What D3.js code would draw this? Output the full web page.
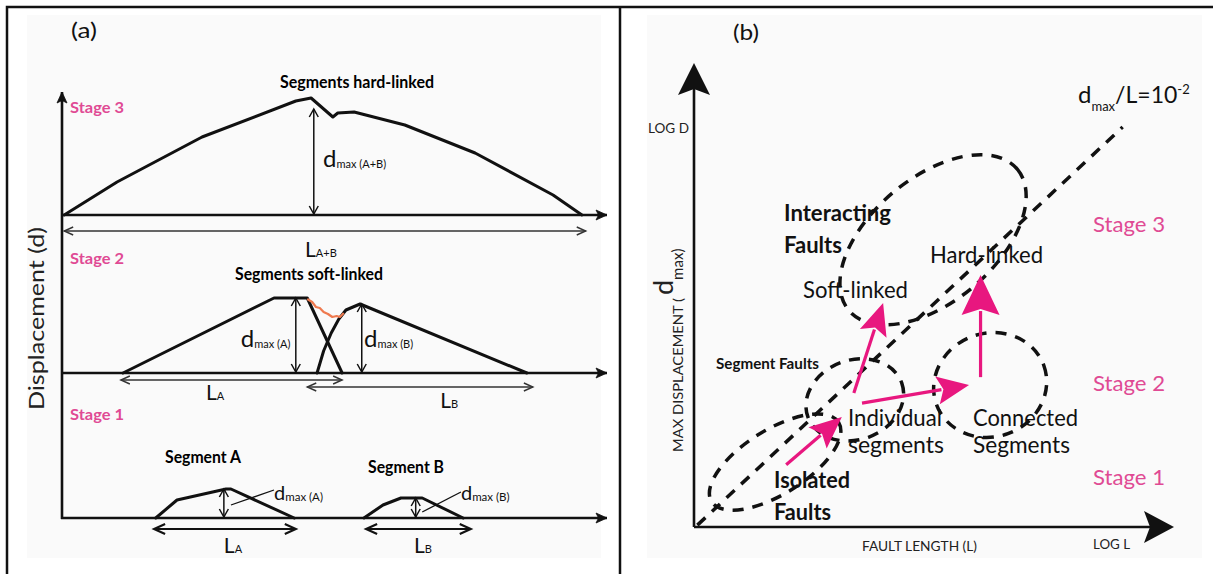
<!DOCTYPE html>
<meta charset="utf-8">
<style>
  body { margin: 0; background: #fff; }
  svg { display: block; font-family: Lato, "Open Sans", sans-serif; }
</style>
<body>
<svg width="1213" height="574"></svg>
<script src="https://cdn.jsdelivr.net/npm/d3@7/dist/d3.min.js"></script>
<script>
// ---------- panel (a): displacement profiles, x = distance along fault (0-100), d = displacement (0-12)
var stageNames = ["Stage 3", "Stage 2", "Stage 1"];
var stageTitles = ["Segments hard-linked", "Segments soft-linked"];
var segmentNames = ["Segment A", "Segment B"];

var stage3Profile = [[0.4,0],[10.1,3.3],[25.7,7.8],[42.9,11.4],[45.7,11.7],[49.7,9.8],[50.6,10.2],[53.6,10.3],[62.9,9.0],[75.8,6.2],[90.1,2.0],[95.4,0]];
var stage2ProfileA = [[11.2,0],[38.9,7.5],[45.0,7.5],[51.4,0]];
var stage2ProfileB = [[46.8,0],[48.0,2.2],[49.4,4.0],[50.8,5.4],[52.1,6.3],[54.7,6.9],[85.3,0]];
var relayRamp = [[45.0,7.4],[45.9,7.1],[46.6,6.6],[47.3,6.5],[48.0,6.1],[48.8,5.9],[49.6,5.6],[50.4,5.7],[51.0,5.6],[51.7,6.0]];
var stage1ProfileA = [[17.2,0],[21.1,1.8],[30.1,2.9],[31.0,2.9],[42.6,0]];
var stage1ProfileB = [[55.4,0],[58.9,1.3],[62.2,2.0],[66.1,2.0],[73.6,0]];

// maximum displacement markers (stage index, position, displacement)
var dmaxArrows = [
  {stage: 0, x: 46.2, top: 10.6, sub: "max (A+B)"},
  {stage: 1, x: 42.9, top: 7.5, sub: "max (A)"},
  {stage: 1, x: 55.0, top: 6.9, sub: "max (B)"},
  {stage: 2, x: 29.7, top: 2.9, sub: "max (A)"},
  {stage: 2, x: 64.9, top: 2.0, sub: "max (B)"}
];
// fault lengths (stage index, start, end)
var lengthArrows = [
  {stage: 0, from: 0.4, to: 96.1, sub: "A+B"},
  {stage: 1, from: 10.8, to: 51.4, sub: "A"},
  {stage: 1, from: 45.0, to: 86.4, sub: "B"},
  {stage: 2, from: 16.9, to: 42.9, sub: "A"},
  {stage: 2, from: 55.8, to: 75.0, sub: "B"}
];

// ---------- panel (b): log L vs log D (0-10 arbitrary log units)
var ratioLine = [[0.07, 0.04], [8.93, 8.62]];
var zones = [
  {name: "isolated",    cx: 1.69, cy: 1.40, rx: 1.56, ry: 0.67, rot: -32},
  {name: "segment",     cx: 3.35, cy: 2.74, rx: 1.04, ry: 0.83, rot: -20},
  {name: "connected",   cx: 6.17, cy: 3.06, rx: 1.19, ry: 1.08, rot: -20},
  {name: "interacting", cx: 4.98, cy: 6.19, rx: 2.29, ry: 1.29, rot: -40}
];
var growthArrows = [
  {from: [1.92, 1.34], to: [3.08, 2.37], big: false},
  {from: [3.50, 2.67], to: [5.73, 3.06], big: false},
  {from: [3.33, 2.89], to: [3.94, 4.83], big: false},
  {from: [5.97, 3.23], to: [5.97, 5.43], big: true}
];

var pink = "#e8177f", stagePink = "#e04a94";
var svg = d3.select("svg");

// frame + faint image backgrounds
svg.append("rect").attr("x", 27).attr("y", 15).attr("width", 574).attr("height", 543).attr("fill", "#fafafa");
svg.append("rect").attr("x", 647).attr("y", 15).attr("width", 555).attr("height", 543).attr("fill", "#fafafa");
svg.append("path").attr("d", "M7,574V7H1213M620,7V574").attr("fill", "none").attr("stroke", "#111").attr("stroke-width", 2.5);

var defs = svg.append("defs");
function addMarker(id, d, len, half, fill, stroke, sw) {
  defs.append("marker").attr("id", id)
      .attr("markerUnits", "userSpaceOnUse")
      .attr("viewBox", [-4, -half - 4, len + 8, 2 * half + 8].join(" "))
      .attr("markerWidth", len + 8).attr("markerHeight", 2 * half + 8)
      .attr("refX", len).attr("refY", 0)
      .attr("orient", "auto-start-reverse")
      .style("overflow", "visible")
    .append("path").attr("d", d)
      .attr("fill", fill).attr("stroke", stroke).attr("stroke-width", sw);
}
addMarker("axisHead", "M0,-5L11,0L0,5L2.5,0Z", 11, 5, "#111", "#111", 0.8);
addMarker("dmaxHead", "M0,-4.5L8,0L0,4.5", 8, 4.5, "none", "#111", 1.5);
addMarker("lenHead", "M0,-4L9,0L0,4", 9, 4, "none", "#333", 1.4);
addMarker("lenHead1", "M0,-5L11,0L0,5", 11, 5, "none", "#111", 2.2);

function txt(g, x, y, s, size, o) {
  o = o || {};
  var t = g.append("text").attr("x", x).attr("y", y).attr("font-size", size).text(s);
  if (o.bold) t.attr("font-weight", "bold");
  if (o.fill) t.attr("fill", o.fill);
  if (o.width) t.attr("textLength", o.width).attr("lengthAdjust", "spacingAndGlyphs");
  return t;
}
function subTxt(g, x, y, main, sub, size, subSize, dy) {
  var t = g.append("text").attr("x", x).attr("y", y).attr("fill", "#111");
  t.append("tspan").attr("font-size", size).text(main);
  t.append("tspan").attr("font-size", subSize).attr("dy", dy || 0).text(sub);
  return t;
}

// ================= panel (a)
var ga = svg.append("g");
var xa = d3.scaleLinear().domain([0, 100]).range([62, 607]);
var stageBase = [215, 373, 518];
var ya = stageBase.map(function(b) { return d3.scaleLinear().domain([0, 12]).range([b, b - 120]); });

txt(ga, 71, 38, "(a)", 22, {width: 26, fill: "#111"});

// axes
ga.append("line").attr("x1", 62).attr("y1", 519).attr("x2", 62).attr("y2", 92)
  .attr("stroke", "#111").attr("stroke-width", 2.6).attr("marker-end", "url(#axisHead)");
stageBase.forEach(function(b) {
  ga.append("line").attr("x1", 61).attr("y1", b).attr("x2", xa(100)).attr("y2", b)
    .attr("stroke", "#111").attr("stroke-width", 2.6).attr("marker-end", "url(#axisHead)");
});

// profiles
function profileLine(i) {
  return d3.line().x(function(p) { return xa(p[0]); }).y(function(p) { return ya[i](p[1]); });
}
[[0, stage3Profile], [1, stage2ProfileA], [1, stage2ProfileB], [2, stage1ProfileA], [2, stage1ProfileB]]
  .forEach(function(p) {
    ga.append("path").attr("d", profileLine(p[0])(p[1]))
      .attr("fill", "none").attr("stroke", "#111").attr("stroke-width", 3)
      .attr("stroke-linejoin", "round").attr("stroke-linecap", "round");
  });
ga.append("path").attr("d", profileLine(1)(relayRamp))
  .attr("fill", "none").attr("stroke", "#ef7a4f").attr("stroke-width", 2.2).attr("stroke-linejoin", "round");

// d max arrows
var dmaxLabelAt = [[47.9, 4.8], [32.8, 2.6], [55.4, 2.6], [38.9, 1.8], [73.2, 1.8]];
dmaxArrows.forEach(function(a, i) {
  var y = ya[a.stage];
  ga.append("line").attr("x1", xa(a.x)).attr("x2", xa(a.x))
    .attr("y1", y(0) - 1).attr("y2", y(a.top))
    .attr("stroke", "#111").attr("stroke-width", 1.5)
    .attr("marker-start", "url(#dmaxHead)").attr("marker-end", "url(#dmaxHead)");
  var big = a.stage < 2;
  subTxt(ga, xa(dmaxLabelAt[i][0]), y(dmaxLabelAt[i][1]), "d", a.sub, big ? 24 : 20, big ? 11 : 11.5, 1);
});
// leader lines in stage 1
[[[31.0, 1.3], [38.9, 2.8]], [[66.1, 0.6], [73.2, 2.6]]].forEach(function(l) {
  ga.append("line").attr("x1", xa(l[0][0])).attr("y1", ya[2](l[0][1]))
    .attr("x2", xa(l[1][0])).attr("y2", ya[2](l[1][1]))
    .attr("stroke", "#111").attr("stroke-width", 1.3);
});

// length arrows
var lenOffset = [-1.6, -0.7, -1.4, -1.1, -1.1];
var lenLabelAt = [[44.6, -4.2], [26.4, -2.7], [69.4, -3.5], [29.7, -3.5], [64.6, -3.5]];
lengthArrows.forEach(function(a, i) {
  var y = ya[a.stage](lenOffset[i]);
  var s1 = a.stage === 2;
  ga.append("line").attr("x1", xa(a.from)).attr("x2", xa(a.to)).attr("y1", y).attr("y2", y)
    .attr("stroke", s1 ? "#111" : "#333").attr("stroke-width", s1 ? 2.2 : 1.4)
    .attr("marker-start", s1 ? "url(#lenHead1)" : "url(#lenHead)")
    .attr("marker-end", s1 ? "url(#lenHead1)" : "url(#lenHead)");
  subTxt(ga, xa(lenLabelAt[i][0]), ya[a.stage](lenLabelAt[i][1]), "L", a.sub, 21, 11, 0);
});

// stage + title text
[113, 264, 420].forEach(function(y, i) {
  txt(ga, 70, y, stageNames[i], 15, {bold: true, fill: stagePink, width: 54});
});
txt(ga, 280, 88, stageTitles[0], 16.5, {bold: true, width: 154});
txt(ga, 235, 280, stageTitles[1], 16.5, {bold: true, width: 148});
txt(ga, 165, 463, segmentNames[0], 16.5, {bold: true, width: 76});
txt(ga, 368, 473, segmentNames[1], 16.5, {bold: true, width: 76});

ga.append("text").attr("transform", "translate(44,410) rotate(-90)")
  .attr("font-size", 22).attr("textLength", 183).attr("lengthAdjust", "spacingAndGlyphs")
  .attr("fill", "#222").text("Displacement (d)");

// ================= panel (b)
var gb = svg.append("g");
var xb = d3.scaleLinear().domain([0, 10]).range([694, 1174]);
var yb = d3.scaleLinear().domain([0, 10]).range([527, 63]);
var unit = xb(1) - xb(0);

txt(gb, 733, 40, "(b)", 22, {width: 26, fill: "#111"});

// axes
gb.append("path").attr("d", "M" + xb(0) + "," + yb(0) + "H" + (xb(10) - 20) + "M" + xb(0) + "," + yb(0) + "V" + (yb(10) + 20))
  .attr("stroke", "#111").attr("stroke-width", 2.6).attr("fill", "none");
gb.append("path").attr("d", "M" + xb(10) + "," + yb(0) + "l-30,-16l6,16l-6,16Z").attr("fill", "#111");
gb.append("path").attr("d", "M" + xb(0) + "," + yb(10) + "l-16,32l16,-6l16,6Z").attr("fill", "#111");

// dashed ratio line + zones
gb.append("line").attr("x1", xb(ratioLine[0][0])).attr("y1", yb(ratioLine[0][1]))
  .attr("x2", xb(ratioLine[1][0])).attr("y2", yb(ratioLine[1][1]))
  .attr("stroke", "#111").attr("stroke-width", 3.5).attr("stroke-dasharray", "11,9");
gb.selectAll("ellipse.zone").data(zones).enter().append("ellipse")
  .attr("class", "zone")
  .attr("transform", function(z) { return "translate(" + xb(z.cx) + "," + yb(z.cy) + ") rotate(" + z.rot + ")"; })
  .attr("rx", function(z) { return z.rx * unit; })
  .attr("ry", function(z) { return z.ry * unit; })
  .attr("fill", "none").attr("stroke", "#111").attr("stroke-width", 3.5).attr("stroke-dasharray", "11,9");

// growth arrows
growthArrows.forEach(function(a) {
  var x0 = xb(a.from[0]), y0 = yb(a.from[1]), x1 = xb(a.to[0]), y1 = yb(a.to[1]);
  var len = Math.hypot(x1 - x0, y1 - y0), ux = (x1 - x0) / len, uy = (y1 - y0) / len;
  var hl = a.big ? 40 : 32, hw = a.big ? 19 : 14;
  var bx = x1 - ux * hl, by = y1 - uy * hl;
  gb.append("line").attr("x1", x0).attr("y1", y0).attr("x2", bx + ux * 4).attr("y2", by + uy * 4)
    .attr("stroke", pink).attr("stroke-width", 3.2);
  gb.append("path").attr("d", "M" + x1 + "," + y1 +
      "L" + (bx - uy * hw) + "," + (by + ux * hw) +
      "L" + (bx + ux * 6) + "," + (by + uy * 6) +
      "L" + (bx + uy * hw) + "," + (by - ux * hw) + "Z")
    .attr("fill", pink);
});

// labels
var rt = gb.append("text").attr("x", 1078).attr("y", 103).attr("fill", "#111");
rt.append("tspan").attr("font-size", 24).text("d");
rt.append("tspan").attr("font-size", 13).attr("dy", 8).text("max");
rt.append("tspan").attr("font-size", 23).attr("dy", -8).text("/L=10");
rt.append("tspan").attr("font-size", 13).attr("dy", -9).text("-2");

txt(gb, 648, 133, "LOG D", 14, {width: 41, fill: "#222"});
txt(gb, 1093, 549, "LOG L", 14, {width: 37, fill: "#222"});
txt(gb, 862, 551, "FAULT LENGTH (L)", 14, {width: 115, fill: "#222"});

var yl = gb.append("text").attr("transform", "translate(683,452) rotate(-90)").attr("fill", "#222");
yl.append("tspan").attr("font-size", 14).attr("textLength", 154).attr("lengthAdjust", "spacingAndGlyphs").text("MAX DISPLACEMENT (");
yl.append("tspan").attr("font-size", 27).attr("dx", 3).attr("dy", -10).text("d");
yl.append("tspan").attr("font-size", 15).attr("dy", 10).text("max)");

txt(gb, 784, 221, "Interacting", 23, {bold: true, width: 107, fill: "#111"});
txt(gb, 784, 253, "Faults", 23, {bold: true, width: 58, fill: "#111"});
txt(gb, 930, 263, "Hard-linked", 23, {width: 113, fill: "#111"});
txt(gb, 803, 298, "Soft-linked", 23, {width: 105, fill: "#111"});
txt(gb, 716, 369, "Segment Faults", 16, {bold: true, width: 103, fill: "#111"});
txt(gb, 848, 426, "Individual", 23, {width: 94, fill: "#111"});
txt(gb, 848, 453, "segments", 23, {width: 96, fill: "#111"});
txt(gb, 973, 426, "Connected", 23, {width: 105, fill: "#111"});
txt(gb, 973, 453, "Segments", 23, {width: 97, fill: "#111"});
txt(gb, 774, 488, "Isolated", 23, {bold: true, width: 76, fill: "#111"});
txt(gb, 774, 520, "Faults", 23, {bold: true, width: 57, fill: "#111"});

[232, 391, 485].forEach(function(y, i) {
  txt(gb, 1093, y, stageNames[i], 21, {fill: stagePink, width: 72});
});
</script>
</body>
